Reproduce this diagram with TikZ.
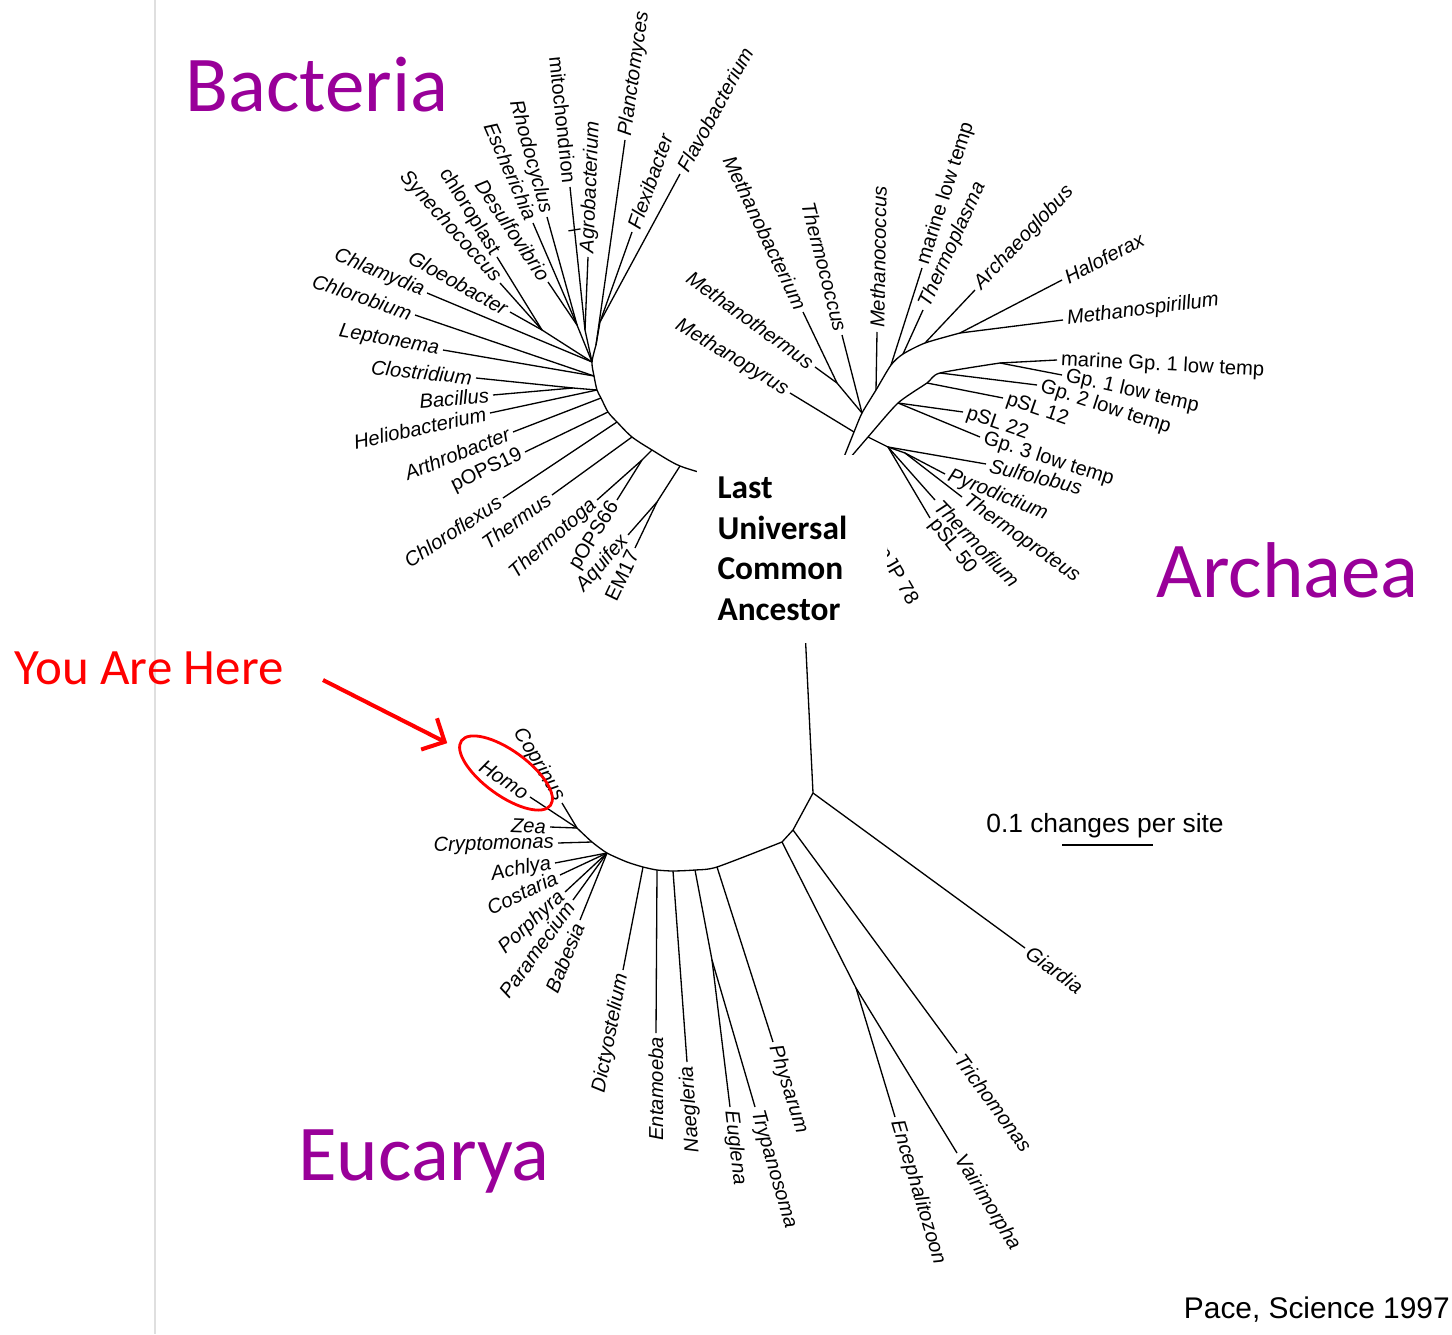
\documentclass[tikz,border=0pt]{standalone}
\usepackage{fontspec}
\setmainfont{Liberation Sans}
\newfontfamily\slidefont{Carlito}
\usepackage{tikz}
\usetikzlibrary{arrows.meta,calc,shapes.geometric}

\definecolor{domainpurple}{RGB}{153,0,153}

\tikzset{
  branch/.style={line width=0.75pt},
  leafR/.style={pos=1, sloped, anchor=west, inner sep=2pt, font=\fontsize{11.5}{13}\selectfont\itshape},
  leafL/.style={pos=1, sloped, anchor=east, inner sep=2pt, font=\fontsize{11.5}{13}\selectfont\itshape},
  leafA/.style={pos=1, anchor=west, inner sep=2pt, font=\fontsize{11.5}{13}\selectfont\itshape},
  leafUp/.style={pos=1, anchor=east, inner sep=2pt, font=\fontsize{11.5}{13}\selectfont\itshape},
  uprt/.style={font=\fontsize{11.5}{13}\selectfont\upshape},
  kingdomlab/.style={anchor=base west, inner sep=0pt, text=domainpurple, font=\slidefont\fontsize{45}{50}\selectfont},
}

\begin{document}
\frenchspacing
\begin{tikzpicture}[x=0.02cm,y=-0.02cm]
  \useasboundingbox (0,0) rectangle (1452,1334);

  \coordinate (edgeT) at (155,0);
  \coordinate (edgeB) at (155,1334);
  \draw[gray!25,line width=1pt] (edgeT) -- (edgeB);

  % Bacteria
  \coordinate (bb0) at (596,345);
  \coordinate (bb1) at (592,362);
  \coordinate (bb2) at (594,376);
  \coordinate (bb3) at (597,390);
  \coordinate (bb4) at (601,398);
  \coordinate (bb5) at (608,412);
  \coordinate (bb6) at (617,422);
  \coordinate (bb7) at (632,437);
  \coordinate (bb8) at (652,450);
  \coordinate (bb9) at (680,466);
  \coordinate (bb10) at (720,478);
  \coordinate (bFl) at (600,322);
  \coordinate (bMi) at (585,330);
  \coordinate (bPr) at (577,325);
  \coordinate (bCy) at (542,330);
  \coordinate (bFi) at (573,388);
  \coordinate (bTt) at (642,460);
  \coordinate (bAq) at (657,502);

  \coordinate (tPla) at (625,140);
  \coordinate (tFlv) at (680,174);
  \coordinate (tFlx) at (632,232);
  \coordinate (tAgr) at (588,257);
  \coordinate (tMit) at (570,187);
  \coordinate (tRho) at (547,217);
  \coordinate (tEsc) at (533,223);
  \coordinate (tDes) at (548,282);
  \coordinate (tChp) at (497,257);
  \coordinate (tSyn) at (500,283);
  \coordinate (tGlo) at (510,312);
  \coordinate (tChl) at (427,293);
  \coordinate (tCbi) at (415,315);
  \coordinate (tLep) at (443,350);
  \coordinate (tClo) at (476,378);
  \coordinate (tBac) at (493,395);
  \coordinate (tHel) at (490,413);
  \coordinate (tArt) at (513,432);
  \coordinate (tP19) at (525,452);
  \coordinate (tCfx) at (503,498);
  \coordinate (tThs) at (552,495);
  \coordinate (tTtg) at (597,500);
  \coordinate (tP66) at (617,500);
  \coordinate (tAqu) at (628,535);
  \coordinate (tEM) at (635,548);

  \draw[branch] plot[smooth,tension=0.5] coordinates {(bb0) (bb1) (bb2) (bb3) (bb4) (bb5) (bb6) (bb7) (bb8) (bb9) (bb10)};
  \draw[branch] (bFl) -- (bb0);
  \draw[branch] (bMi) -- (bb1);
  \draw[branch] (bPr) -- (bb1);
  \draw[branch] (bCy) -- (bb1);
  \draw[branch] (bFi) -- (bb3);
  \draw[branch] (bTt) -- (bb8);
  \draw[branch] (bAq) -- (bb9);

  \draw[branch] (bb0) -- (tPla) node[leafR] (Pla) {Planctomyces};
  \draw[branch] (bFl) -- (tFlv) node[leafR] (Flv) {Flavobacterium};
  \draw[branch] (bFl) -- (tFlx) node[leafR] (Flx) {Flexibacter};
  \draw[branch] (bMi) -- (tAgr) node[leafR] (Agr) {Agrobacterium};
  \draw[branch] (bMi) -- (tMit) node[leafL,uprt] (Mit) {mitochondrion};
  \draw[branch] ($(bMi)!0.7!(tMit)$) ++(-6,1) -- ++(12,-2);
  \draw[branch] (bPr) -- (tRho) node[leafL] (Rho) {Rhodocyclus};
  \draw[branch] (bPr) -- (tEsc) node[leafL] (Esc) {Escherichia};
  \draw[branch] (bPr) -- (tDes) node[leafL] (Des) {Desulfovibrio};
  \draw[branch] (bCy) -- (tChp) node[leafL,uprt] (Chp) {chloroplast};
  \draw[branch] (bCy) -- (tSyn) node[leafL] (Syn) {Synechococcus};
  \draw[branch] (bCy) -- (tGlo) node[leafL] (Glo) {Gloeobacter};
  \draw[branch] (bb1) -- (tChl) node[leafL] (Chl) {Chlamydia};
  \draw[branch] (bb2) -- (tCbi) node[leafL] (Cbi) {Chlorobium};
  \draw[branch] (bb2) -- (tLep) node[leafL] (Lep) {Leptonema};
  \draw[branch] (bFi) -- (tClo) node[leafL] (Clo) {Clostridium};
  \draw[branch] (bFi) -- (tBac) node[leafL] (Bac) {Bacillus};
  \draw[branch] (bb3) -- (tHel) node[leafL] (Hel) {Heliobacterium};
  \draw[branch] (bb4) -- (tArt) node[leafL] (Art) {Arthrobacter};
  \draw[branch] (bb5) -- (tP19) node[leafL,uprt] (P19) {pOPS19};
  \draw[branch] (bb6) -- (tCfx) node[leafL] (Cfx) {Chloroflexus};
  \draw[branch] (bb7) -- (tThs) node[leafL] (Ths) {Thermus};
  \draw[branch] (bTt) -- (tTtg) node[leafL] (Ttg) {Thermotoga};
  \draw[branch] (bTt) -- (tP66) node[leafL,uprt] (P66) {pOPS66};
  \draw[branch] (bAq) -- (tAqu) node[leafL] (Aqu) {Aquifex};
  \draw[branch] (bAq) -- (tEM) node[leafL,uprt] (EM) {EM17};

  % Archaea
  \coordinate (aR) at (838,472);
  \coordinate (aPy) at (854,432);
  \coordinate (aE1) at (862,413);
  \coordinate (aMc) at (876,390);
  \coordinate (aE2) at (891,365);
  \coordinate (aE2b) at (903,354);
  \coordinate (aE3) at (925,343);
  \coordinate (aE4) at (960,333);
  \coordinate (aMb) at (837,383);
  \coordinate (aC0) at (868,437);
  \coordinate (aL1) at (898,403);
  \coordinate (aL2) at (927,383);
  \coordinate (aL3) at (940,373);
  \coordinate (aL4) at (1000,363);
  \coordinate (aC1) at (888,447);
  \coordinate (aC2) at (905,453);

  \coordinate (tMpy) at (790,393);
  \coordinate (tMba) at (803,312);
  \coordinate (tMth) at (815,367);
  \coordinate (tTcc) at (842,335);
  \coordinate (tMcc) at (877,332);
  \coordinate (tMlt) at (922,268);
  \coordinate (tTpl) at (923,310);
  \coordinate (tArg) at (975,290);
  \coordinate (tHfx) at (1062,280);
  \coordinate (tMsp) at (1063,320);
  \coordinate (tMG1) at (1057,360);
  \coordinate (tG1) at (1062,375);
  \coordinate (tG2) at (1037,385);
  \coordinate (tS12) at (1003,398);
  \coordinate (tS22) at (963,412);
  \coordinate (tG3) at (980,437);
  \coordinate (tSul) at (986,464);
  \coordinate (tPyr) at (945,474);
  \coordinate (tTpr) at (962,497);
  \coordinate (tTfl) at (935,500);
  \coordinate (tS50) at (930,518);

  \draw[branch] plot[smooth,tension=0.4] coordinates {(aR) (aPy) (aE1) (aMc) (aE2) (aE2b) (aE3) (aE4)};
  \draw[branch] plot[smooth,tension=0.4] coordinates {(aR) (aC0) (aL1) (aL2) (aL3) (aL4)};
  \draw[branch] (aC0) -- (aC1) -- (aC2);
  \draw[branch] (aMb) -- (aE1);

  \draw[branch] (aPy) -- (tMpy) node[leafL] (Mpy) {Methanopyrus};
  \draw[branch] (aMb) -- (tMba) node[leafL] (Mba) {Methanobacterium};
  \draw[branch] (aMb) -- (tMth) node[leafL] (Mth) {Methanothermus};
  \draw[branch] (aE1) -- (tTcc) node[leafL] (Tcc) {Thermococcus};
  \draw[branch] (aMc) -- (tMcc) node[leafR] (Mcc) {Methanococcus};
  \draw[branch] (aE2) -- (tMlt) node[leafR,uprt] (Mlt) {marine low temp};
  \draw[branch] (aE2b) -- (tTpl) node[leafR] (Tpl) {Thermoplasma};
  \draw[branch] (aE3) -- (tArg) node[leafR] (Arg) {Archaeoglobus};
  \draw[branch] (aE4) -- (tHfx) node[leafR] (Hfx) {Haloferax};
  \draw[branch] (aE4) -- (tMsp) node[leafR] (Msp) {Methanospirillum};
  \draw[branch] (aL4) -- (tMG1) node[leafA,uprt,rotate=-3] (MG1) {marine Gp. 1 low temp};
  \draw[branch] (aL4) -- (tG1) node[leafA,uprt,rotate=-13] (G1) {Gp. 1 low temp};
  \draw[branch] (aL3) -- (tG2) node[leafA,uprt,rotate=-18] (G2) {Gp. 2 low temp};
  \draw[branch] (aL2) -- (tS12) node[leafA,uprt,rotate=-19] (S12) {pSL 12};
  \draw[branch] (aL1) -- (tS22) node[leafA,uprt,rotate=-19] (S22) {pSL 22};
  \draw[branch] (aL1) -- (tG3) node[leafA,uprt,rotate=-18] (G3) {Gp. 3 low temp};
  \draw[branch] (aC1) -- (tSul) node[leafA,rotate=-14] (Sul) {Sulfolobus};
  \draw[branch] (aC2) -- (tPyr) node[leafA,rotate=-22] (Pyr) {Pyrodictium};
  \draw[branch] (aC2) -- (tTpr) node[leafA,rotate=-35] (Tpr) {Thermoproteus};
  \draw[branch] (aC1) -- (tTfl) node[leafA,rotate=-46] (Tfl) {Thermofilum};
  \draw[branch] (aC1) -- (tS50) node[leafA,uprt,rotate=-52] (S50) {pSL 50};
  \node[uprt,rotate=-60,anchor=west,inner sep=0pt] (pJP) at (881,549) {pJP 78};

  % Eucarya
  \coordinate (eS) at (805,630);
  \coordinate (e1) at (813,793);
  \coordinate (e2) at (793,830);
  \coordinate (e3) at (782,842);
  \coordinate (e4) at (717,867);
  \coordinate (e5) at (695,870);
  \coordinate (e6) at (673,871);
  \coordinate (e7) at (657,870);
  \coordinate (e8) at (643,867);
  \coordinate (e9) at (627,862);
  \coordinate (e10) at (607,853);
  \coordinate (e11) at (592,842);
  \coordinate (e12) at (577,828);
  \coordinate (eMi) at (856,988);
  \coordinate (eEu) at (712,960);

  \coordinate (tGia) at (1025,948);
  \coordinate (tTri) at (957,1053);
  \coordinate (tEnc) at (895,1117);
  \coordinate (tVai) at (957,1153);
  \coordinate (tPhy) at (773,1042);
  \coordinate (tEug) at (730,1107);
  \coordinate (tTry) at (755,1107);
  \coordinate (tNae) at (687,1062);
  \coordinate (tEnt) at (656,1033);
  \coordinate (tDic) at (623,970);
  \coordinate (tBab) at (580,920);
  \coordinate (tPar) at (573,900);
  \coordinate (tPor) at (565,892);
  \coordinate (tCos) at (560,875);
  \coordinate (tAch) at (555,863);
  \coordinate (tCry) at (558,843);
  \coordinate (tZea) at (550,827);
  \coordinate (tHom) at (530,797);
  \coordinate (tCop) at (562,803);

  \draw[branch] (eS) -- (e1);
  \draw[branch] (e1) -- (e2) -- (e3);
  \draw[branch] plot[smooth,tension=0.4] coordinates {(e3) (e4) (e5) (e6) (e7) (e8) (e9) (e10) (e11) (e12)};
  \draw[branch] (e3) -- (eMi);
  \draw[branch] (e5) -- (eEu);

  \draw[branch] (e1) -- (tGia) node[leafR] (Gia) {Giardia};
  \draw[branch] (e2) -- (tTri) node[leafR] (Tri) {Trichomonas};
  \draw[branch] (eMi) -- (tEnc) node[leafR] (Enc) {Encephalitozoon};
  \draw[branch] (eMi) -- (tVai) node[leafR] (Vai) {Vairimorpha};
  \draw[branch] (e4) -- (tPhy) node[leafR] (Phy) {Physarum};
  \draw[branch] (eEu) -- (tEug) node[leafR] (Eug) {Euglena};
  \draw[branch] (eEu) -- (tTry) node[leafR] (Try) {Trypanosoma};
  \draw[branch] (e6) -- (tNae) node[leafUp,rotate=94] (Nae) {Naegleria};
  \draw[branch] (e7) -- (tEnt) node[leafUp,rotate=90] (Ent) {Entamoeba};
  \draw[branch] (e8) -- (tDic) node[leafL] (Dic) {Dictyostelium};
  \draw[branch] (e10) -- (tBab) node[leafL] (Bab) {Babesia};
  \draw[branch] (e10) -- (tPar) node[leafL] (Par) {Paramecium};
  \draw[branch] (e10) -- (tPor) node[leafL] (Por) {Porphyra};
  \draw[branch] (e10) -- (tCos) node[leafL] (Cos) {Costaria};
  \draw[branch] (e10) -- (tAch) node[leafL] (Ach) {Achlya};
  \draw[branch] (e11) -- (tCry) node[leafL] (Cry) {Cryptomonas};
  \draw[branch] (e12) -- (tZea) node[leafL] (Zea) {Zea};
  \draw[branch] (e12) -- (tHom) node[leafL] (Hom) {Homo};
  \draw[branch] (e12) -- (tCop) node[leafL] (Cop) {Coprinus};

  % centre and notes
  \node[fill=white,inner xsep=0.42cm,inner ysep=0pt,minimum height=3.76cm,text width=2.98cm,align=left,
        font=\slidefont\bfseries\fontsize{19}{23.1}\selectfont] (luca) at (792,549) {Last\\Universal\\Common\\Ancestor};

  \node[ellipse,draw=red,line width=1.6pt,minimum width=2.2cm,minimum height=0.9cm,rotate=-36,inner sep=0pt] (homoRing) at (506,773) {};
  \coordinate (arrowTail) at (323,680);
  \draw[red,line width=2.3pt,-{Straight Barb[length=3.5mm,width=7mm]},shorten >=0.25cm] (arrowTail) -- (homoRing);

  \node[kingdomlab] (bacteria) at (185,112) {Bacteria};
  \node[kingdomlab] (archaea) at (1156,597) {Archaea};
  \node[kingdomlab] (eucarya) at (298,1180) {Eucarya};
  \node[anchor=base west,inner sep=0pt,text=red,font=\slidefont\fontsize{29}{33}\selectfont] (here) at (14,684) {You Are Here};

  \node[font=\fontsize{15}{17}\selectfont] (scaletxt) at (1105,826) {0.1 changes per site};
  \coordinate (sbL) at (1062,845);
  \coordinate (sbR) at (1153,845);
  \draw[line width=1pt] (sbL) -- (sbR);

  \node[anchor=base east,inner sep=0pt,font=\fontsize{17}{20}\selectfont] (cite) at (1450,1318) {Pace, Science 1997};
\end{tikzpicture}
\end{document}
